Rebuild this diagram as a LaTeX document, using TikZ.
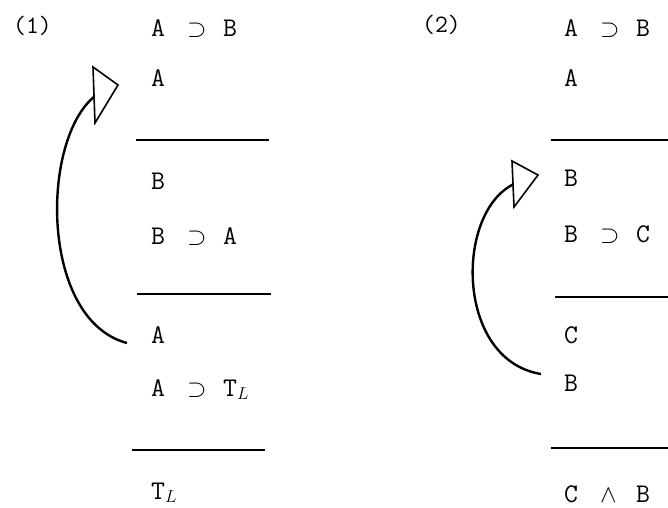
\documentclass[tikz,border=0pt]{standalone}
\usepackage{fontspec}
\newcommand\mcell[1]{\makebox[18pt][l]{#1}}
\newcommand\frmtwo[3]{\mcell{#1}\mcell{}\mcell{#2}\mcell{}#3}
\begin{document}
\begin{tikzpicture}[x=1pt,y=-1pt,
  frm/.style={anchor=base west,inner sep=0pt,font=\fontsize{27}{30}\selectfont\ttfamily},
  lbl/.style={anchor=base west,inner sep=0pt,font=\fontsize{25}{27}\selectfont\ttfamily},
  rule/.style={line width=2pt},
  loop/.style={line width=2.4pt},
  tip/.style={line width=1.6pt,fill=white,line join=miter}]
\useasboundingbox (0,0) rectangle (668,507);
% column 1
\node[lbl] (l1) at (13,33) {(1)};
\node[frm] (p1) at (151,36) {\frmtwo{A}{$\supset$}{B}};
\node[frm] (p2) at (151,86) {A};
\node[frm] (p3) at (151,189) {B};
\node[frm] (p4) at (151,244) {\frmtwo{B}{$\supset$}{A}};
\node[frm] (p5) at (151,343) {A};
\node[frm] (p6) at (151,396) {\frmtwo{A}{$\supset$}{T$_L$}};
\node[frm] (p7) at (151,499) {T$_L$};
\coordinate (r1a) at (136,140); \coordinate (r1b) at (269,140);
\coordinate (r2a) at (137,294); \coordinate (r2b) at (271,294);
\coordinate (r3a) at (132,450); \coordinate (r3b) at (265,450);
\draw[rule] (r1a) -- (r1b);
\draw[rule] (r2a) -- (r2b);
\draw[rule] (r3a) -- (r3b);
\coordinate (s1) at (127,343);
\coordinate (e1) at (95,96);
\coordinate (t1a) at (93,67); \coordinate (t1b) at (118,85); \coordinate (t1c) at (95,123);
\draw[loop] (s1) .. controls (40,320) and (40,140) .. (e1);
\draw[tip] (t1a) -- (t1b) -- (t1c) -- cycle;
% column 2
\node[lbl] (l2) at (422,32) {(2)};
\node[frm] (q1) at (564,36) {\frmtwo{A}{$\supset$}{B}};
\node[frm] (q2) at (564,86) {A};
\node[frm] (q3) at (564,186) {B};
\node[frm] (q4) at (564,242) {\frmtwo{B}{$\supset$}{C}};
\node[frm] (q5) at (564,343) {C};
\node[frm] (q6) at (564,391) {B};
\node[frm] (q7) at (564,502) {\frmtwo{C}{$\wedge$}{B}};
\coordinate (u1a) at (551,140); \coordinate (u1b) at (668,140);
\coordinate (u2a) at (555,297); \coordinate (u2b) at (668,297);
\coordinate (u3a) at (551,448); \coordinate (u3b) at (668,448);
\draw[rule] (u1a) -- (u1b);
\draw[rule] (u2a) -- (u2b);
\draw[rule] (u3a) -- (u3b);
\coordinate (s2) at (541,374);
\coordinate (e2) at (514,184);
\coordinate (t2a) at (512,161); \coordinate (t2b) at (538,175); \coordinate (t2c) at (514,207);
\draw[loop] (s2) .. controls (455,360) and (455,212) .. (e2);
\draw[tip] (t2a) -- (t2b) -- (t2c) -- cycle;
\end{tikzpicture}
\end{document}
